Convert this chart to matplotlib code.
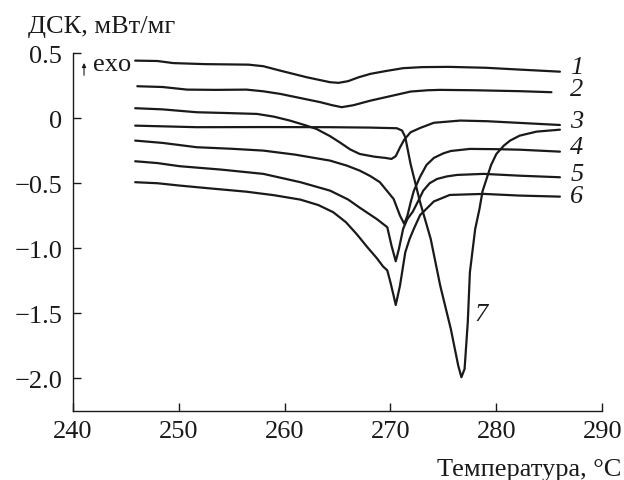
import matplotlib
matplotlib.use("Agg")
import matplotlib.pyplot as plt
from matplotlib.ticker import FixedLocator, FixedFormatter

plt.rcParams['font.family'] = ['Liberation Serif', 'DejaVu Serif']
plt.rcParams['font.size'] = 19

# DSC curves: temperature (°C) and heat flow (mW/mg)
T1 = [245.9, 248.0, 249.5, 252.5, 256.6, 258.0, 259.5, 262.1, 264.3, 265.1, 266.0, 267.0,
      268.1, 269.5, 271.2, 273.0, 275.5, 279.0, 282.2, 286.0]
V1 = [0.443, 0.440, 0.424, 0.416, 0.412, 0.400, 0.368, 0.315, 0.277, 0.272, 0.285, 0.315,
      0.341, 0.362, 0.385, 0.393, 0.395, 0.388, 0.374, 0.358]

T2 = [246.1, 248.5, 250.8, 253.5, 256.4, 258.0, 259.6, 261.5, 263.4, 264.5, 265.4, 266.5,
      268.1, 270.0, 271.9, 273.5, 274.7, 278.0, 282.2, 285.2]
V2 = [0.246, 0.240, 0.220, 0.218, 0.220, 0.207, 0.187, 0.155, 0.123, 0.100, 0.085, 0.100,
      0.135, 0.170, 0.205, 0.215, 0.218, 0.215, 0.208, 0.200]

T3 = [245.9, 248.5, 251.7, 254.5, 257.4, 259.0, 260.5, 262.0, 263.0, 264.3, 265.2, 266.2,
      267.1, 268.5, 269.5, 270.1, 270.5, 270.9, 271.3, 271.9, 272.8, 274.1, 276.6, 279.1,
      282.2, 286.0]
V3 = [0.077, 0.068, 0.046, 0.040, 0.033, 0.012, -0.018, -0.055, -0.082, -0.138, -0.185, -0.240,
      -0.275, -0.296, -0.305, -0.313, -0.292, -0.225, -0.165, -0.108, -0.075, -0.035, -0.018,
      -0.023, -0.036, -0.052]

T4 = [245.9, 248.5, 251.7, 255.0, 258.0, 261.0, 264.3, 265.9, 267.1, 268.1, 269.0, 270.3,
      270.9, 271.3, 271.6, 271.9, 272.2, 272.8, 273.4, 274.1, 275.0, 275.7, 277.5, 280.0,
      282.2, 286.0]
V4 = [-0.172, -0.190, -0.223, -0.235, -0.249, -0.280, -0.326, -0.365, -0.403, -0.445, -0.492,
      -0.621, -0.749, -0.813, -0.750, -0.650, -0.560, -0.450, -0.360, -0.305, -0.270, -0.252,
      -0.236, -0.238, -0.242, -0.257]

T5 = [245.9, 248.0, 250.1, 254.0, 258.0, 261.5, 264.3, 266.0, 267.1, 268.7, 269.7, 270.1,
      270.5, 270.8, 271.2, 271.6, 272.1, 272.6, 273.1, 273.7, 274.4, 275.3, 276.3, 278.8,
      282.2, 286.0]
V5 = [-0.331, -0.345, -0.369, -0.395, -0.428, -0.492, -0.557, -0.625, -0.688, -0.775, -0.838,
      -0.980, -1.100, -1.005, -0.850, -0.775, -0.720, -0.640, -0.557, -0.500, -0.467, -0.448,
      -0.436, -0.428, -0.442, -0.454]

T6 = [245.9, 248.0, 250.1, 253.0, 256.4, 259.0, 261.5, 263.2, 264.6, 265.8, 266.8, 267.8,
      268.7, 269.3, 269.7, 270.0, 270.3, 270.5, 270.9, 271.4, 271.8, 272.2, 272.8, 273.7,
      274.1, 275.6, 278.8, 282.2, 286.0]
V6 = [-0.492, -0.500, -0.518, -0.540, -0.565, -0.592, -0.626, -0.668, -0.723, -0.800, -0.890,
      -0.990, -1.075, -1.140, -1.170, -1.262, -1.365, -1.436, -1.288, -1.031, -0.930, -0.852,
      -0.745, -0.672, -0.640, -0.590, -0.582, -0.595, -0.603]

T7 = [245.9, 251.7, 258.0, 264.3, 268.0, 270.6, 271.1, 271.4, 271.9, 272.8, 273.8, 274.7,
      275.7, 276.4, 276.7, 277.0, 277.3, 277.5, 278.0, 278.4, 278.7, 279.1, 279.5, 280.0,
      280.7, 281.3, 282.2, 283.8, 286.0]
V7 = [-0.057, -0.069, -0.068, -0.069, -0.072, -0.077, -0.095, -0.146, -0.352, -0.646, -0.928,
      -1.288, -1.621, -1.903, -1.992, -1.928, -1.569, -1.185, -0.852, -0.700, -0.560, -0.460,
      -0.360, -0.275, -0.211, -0.172, -0.134, -0.103, -0.088]

curves = [(T1, V1), (T2, V2), (T3, V3), (T4, V4), (T5, V5), (T6, V6), (T7, V7)]

# curve number labels and where they sit (°C, mW/mg)
curve_labels = ['1', '2', '3', '4', '5', '6', '7']
label_T = [287.6, 287.6, 287.6, 287.6, 287.6, 287.6, 278.6]
label_V = [0.392, 0.225, -0.018, -0.223, -0.428, -0.595, -1.505]

x_ticks = [240, 250, 260, 270, 280, 290]
y_ticks = [-2.0, -1.5, -1.0, -0.5, 0.0, 0.5]
y_tick_labels = ['\u22122.0', '\u22121.5', '\u22121.0', '\u22120.5', '0', '0.5']

fig = plt.figure(figsize=(6.24, 4.81), dpi=100)
ax = fig.add_axes([0.1165, 0.1439, 0.8487, 0.7434])

for T, V in curves:
    ax.plot(T, V, color='#1a1a1a', lw=1.6, solid_joinstyle='round', solid_capstyle='round')

for lab, tx, vy in zip(curve_labels, label_T, label_V):
    ax.text(tx, vy, lab, ha='center', va='center', style='italic', fontsize=19,
            color='#1a1a1a')

ax.set_xlim(240, 290)
ax.set_ylim(-2.25, 0.5)

for side in ('top', 'right'):
    ax.spines[side].set_visible(False)
for side in ('left', 'bottom'):
    ax.spines[side].set_linewidth(1.0)
    ax.spines[side].set_color('#1a1a1a')

ax.xaxis.set_major_locator(FixedLocator(x_ticks))
ax.yaxis.set_major_locator(FixedLocator(y_ticks))
ax.yaxis.set_major_formatter(FixedFormatter(y_tick_labels))
ax.tick_params(axis='both', direction='in', length=6, width=1.0, color='#1a1a1a',
               labelsize=19, labelcolor='#1a1a1a')
ax.tick_params(axis='x', pad=6.5)
ax.tick_params(axis='y', pad=7.5)

# exotherm direction marker
ax.annotate('', xy=(241.07, 0.425), xytext=(241.07, 0.33),
            arrowprops=dict(arrowstyle='-|>', lw=0.8, color='#1a1a1a', mutation_scale=6,
                            shrinkA=0, shrinkB=0),
            annotation_clip=False)
ax.text(241.9, 0.374, 'exo', ha='left', va='baseline', fontsize=19, color='#1a1a1a')

fig.text(28 / 624, 1 - 33 / 481, 'ДСК, мВт/мг', ha='left', va='baseline', fontsize=19,
         color='#1a1a1a')
fig.text(621 / 624, 4.5 / 481, 'Температура, °C', ha='right', va='baseline', fontsize=19,
         color='#1a1a1a')

fig.savefig('out.png', dpi=100)
